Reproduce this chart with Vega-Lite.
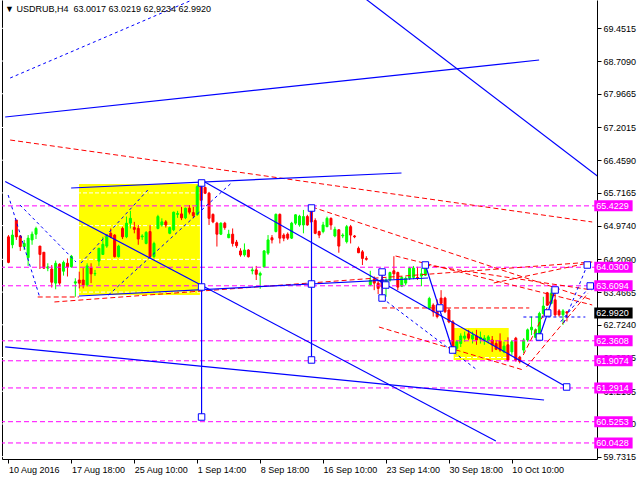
{
"$schema": "https://vega.github.io/schema/vega-lite/v6.json",
"width": 595, "height": 459,
"autosize": {"type": "none"},
"padding": {"left": 2, "top": 0, "right": 43, "bottom": 21},
"background": "white",
"title": {"text": "▼ USDRUB,H4\u00a0 63.0017 63.0219 62,9234 62.9920", "anchor": "start", "frame": "group", "orient": "top", "offset": 0, "dy": 14, "dx": 3, "font": "Liberation Sans, DejaVu Sans", "fontSize": 9, "fontWeight": "normal", "color": "black"},
"config": {"view": {"stroke": null}, "font": "Liberation Sans"},
"resolve": {"axis": {"x": "independent", "y": "independent"}},
"datasets": {
"zones": [{"x1": 17.93, "x2": 48.68, "p1": 65.919, "p2": 63.4}, {"x1": 113.2, "x2": 127.2, "p1": 62.652, "p2": 61.926}],
"grid": [{"p": 69.4515}, {"p": 68.709}, {"p": 67.9665}, {"p": 67.2015}, {"p": 66.459}, {"p": 65.7165}, {"p": 64.974}, {"p": 64.209}, {"p": 63.4665}, {"p": 62.724}, {"p": 61.9815}, {"p": 61.2165}, {"p": 60.474}, {"p": 59.7315}],
"levels": [{"p": 65.4229, "t": "65.4229", "k": "lvl"}, {"p": 64.03, "t": "64.0300", "k": "lvl"}, {"p": 63.6094, "t": "63.6094", "k": "lvl"}, {"p": 62.3608, "t": "62.3608", "k": "lvl"}, {"p": 61.9074, "t": "61.9074", "k": "lvl"}, {"p": 61.2914, "t": "61.2914", "k": "lvl"}, {"p": 60.5253, "t": "60.5253", "k": "lvl"}, {"p": 60.0428, "t": "60.0428", "k": "lvl"}, {"p": 62.992, "t": "62.9920", "k": "cur"}],
"segs": [
{"k": "b", "x1": -0.83, "p1": 67.439, "x2": 134.93, "p2": 68.733},
{"k": "b", "x1": 90, "p1": 70.174, "x2": 151, "p2": 66.014},
{"k": "b", "x1": 15.93, "p1": 65.828, "x2": 99.93, "p2": 66.169},
{"k": "b", "x1": 17.93, "p1": 63.378, "x2": 106.68, "p2": 63.786},
{"k": "b", "x1": -0.83, "p1": 65.976, "x2": 123.93, "p2": 60.088},
{"k": "b", "x1": 49.93, "p1": 65.964, "x2": 141.93, "p2": 61.313},
{"k": "b", "x1": -0.83, "p1": 62.221, "x2": 136.18, "p2": 61.018},
{"k": "b", "x1": 49.1, "p1": 65.942, "x2": 49.1, "p2": 60.632},
{"k": "b", "x1": 77.05, "p1": 65.374, "x2": 77.05, "p2": 61.926},
{"k": "b", "x1": 95.0, "p1": 63.922, "x2": 95.0, "p2": 63.332},
{"k": "b", "x1": 106.0, "p1": 64.081, "x2": 112.93, "p2": 62.152},
{"k": "b", "x1": 135.0, "p1": 62.447, "x2": 137.1, "p2": 62.992},
{"k": "b", "x1": 137.1, "p1": 62.992, "x2": 139.0, "p2": 63.514},
{"k": "bd", "x1": 0.43, "p1": 68.324, "x2": 46.68, "p2": 70.094},
{"k": "bd", "x1": -0.08, "p1": 65.669, "x2": 7.93, "p2": 63.355},
{"k": "bd", "x1": 2.93, "p1": 65.443, "x2": 17.18, "p2": 64.149},
{"k": "bd", "x1": 18.43, "p1": 64.126, "x2": 35.43, "p2": 65.783},
{"k": "bd", "x1": 25.43, "p1": 63.4, "x2": 56.68, "p2": 65.942},
{"k": "bd", "x1": 95.0, "p1": 63.332, "x2": 119.18, "p2": 61.699},
{"k": "bd", "x1": 130.93, "p1": 62.901, "x2": 146.68, "p2": 62.901},
{"k": "bd", "x1": 141.18, "p1": 62.765, "x2": 147.18, "p2": 64.081},
{"k": "bd", "x1": 140.43, "p1": 62.795, "x2": 147.93, "p2": 63.605},
{"k": "rd", "x1": 0.43, "p1": 66.917, "x2": 148.43, "p2": 65.057},
{"k": "rd", "x1": 7.43, "p1": 63.355, "x2": 17.93, "p2": 63.355},
{"k": "rd", "x1": 11.68, "p1": 63.242, "x2": 148.43, "p2": 64.149},
{"k": "rd", "x1": 77.18, "p1": 65.397, "x2": 148.43, "p2": 63.287},
{"k": "rd", "x1": 95.0, "p1": 63.106, "x2": 132.43, "p2": 63.106},
{"k": "rd", "x1": 98.43, "p1": 64.285, "x2": 148.43, "p2": 63.174},
{"k": "rd", "x1": 94.2, "p1": 62.674, "x2": 130.9, "p2": 61.699},
{"k": "rd", "x1": 130.9, "p1": 62.039, "x2": 139.2, "p2": 63.514},
{"k": "rd", "x1": 131.7, "p1": 61.767, "x2": 147.4, "p2": 63.446},
{"k": "rd", "x1": 123.4, "p1": 63.673, "x2": 147.4, "p2": 64.126},
{"k": "rd", "x1": 106.0, "p1": 64.081, "x2": 148.4, "p2": 63.514}
],
"pts": [{"x": 49.1, "p": 65.942}, {"x": 49.1, "p": 63.582}, {"x": 49.1, "p": 60.632}, {"x": 77.05, "p": 65.374}, {"x": 77.05, "p": 63.65}, {"x": 77.05, "p": 61.926}, {"x": 95.0, "p": 63.922}, {"x": 95.0, "p": 63.332}, {"x": 95.93, "p": 63.627}, {"x": 106.0, "p": 64.081}, {"x": 109.68, "p": 63.106}, {"x": 112.93, "p": 62.152}, {"x": 135.0, "p": 62.447}, {"x": 137.1, "p": 62.992}, {"x": 139.0, "p": 63.514}, {"x": 141.93, "p": 61.313}, {"x": 147.93, "p": 63.605}, {"x": 147.18, "p": 64.081}],
"candles": [
{"i":0,"o":64.72,"h":64.76,"l":64.12,"c":64.14},{"i":1,"o":64.54,"h":64.88,"l":64.46,"c":64.76},{"i":2,"o":65.10,"h":65.10,"l":64.65,"c":64.72},{"i":3,"o":64.74,"h":64.76,"l":64.40,"c":64.50},{"i":4,"o":64.50,"h":64.65,"l":64.42,"c":64.57},{"i":5,"o":64.25,"h":64.76,"l":64.06,"c":64.69},{"i":6,"o":64.65,"h":64.84,"l":64.54,"c":64.78},{"i":7,"o":64.78,"h":64.95,"l":64.67,"c":64.91},{"i":8,"o":64.51,"h":64.51,"l":63.99,"c":64.32},{"i":9,"o":64.37,"h":64.37,"l":63.99,"c":64.01},
{"i":10,"o":64.01,"h":64.12,"l":63.94,"c":64.04},{"i":11,"o":63.99,"h":64.08,"l":63.57,"c":63.69},{"i":12,"o":63.67,"h":64.18,"l":63.53,"c":64.12},{"i":13,"o":64.10,"h":64.12,"l":63.63,"c":63.67},{"i":14,"o":63.94,"h":64.18,"l":63.84,"c":64.14},{"i":15,"o":64.12,"h":64.23,"l":63.82,"c":64.04},{"i":16,"o":64.04,"h":64.31,"l":64.02,"c":64.28},{"i":17,"o":63.67,"h":63.78,"l":63.36,"c":63.70},{"i":18,"o":63.74,"h":63.93,"l":63.55,"c":63.67},{"i":19,"o":63.74,"h":64.01,"l":63.55,"c":63.63},
{"i":20,"o":63.63,"h":64.12,"l":63.59,"c":64.06},{"i":21,"o":64.01,"h":64.12,"l":63.67,"c":63.88},{"i":22,"o":63.88,"h":63.97,"l":63.83,"c":63.89},{"i":23,"o":64.17,"h":64.47,"l":64.06,"c":64.46},{"i":24,"o":64.32,"h":64.72,"l":64.31,"c":64.55},{"i":25,"o":64.51,"h":64.76,"l":64.47,"c":64.72},{"i":26,"o":64.80,"h":64.91,"l":64.69,"c":64.72},{"i":27,"o":64.76,"h":64.78,"l":64.25,"c":64.27},{"i":28,"o":64.27,"h":64.54,"l":64.25,"c":64.51},{"i":29,"o":64.91,"h":64.95,"l":64.67,"c":64.72},
{"i":30,"o":64.72,"h":65.18,"l":64.69,"c":65.03},{"i":31,"o":65.03,"h":65.31,"l":64.91,"c":65.14},{"i":32,"o":64.93,"h":65.06,"l":64.80,"c":64.89},{"i":33,"o":64.91,"h":64.99,"l":64.54,"c":64.67},{"i":34,"o":64.72,"h":64.78,"l":64.65,"c":64.74},{"i":35,"o":64.57,"h":64.85,"l":64.55,"c":64.82},{"i":36,"o":64.84,"h":64.99,"l":64.23,"c":64.27},{"i":37,"o":64.27,"h":64.61,"l":64.23,"c":64.57},{"i":38,"o":64.91,"h":65.22,"l":64.89,"c":65.18},{"i":39,"o":64.99,"h":65.14,"l":64.95,"c":65.06},
{"i":40,"o":65.06,"h":65.10,"l":64.93,"c":64.99},{"i":41,"o":64.80,"h":64.95,"l":64.78,"c":64.93},{"i":42,"o":64.88,"h":65.29,"l":64.85,"c":65.28},{"i":43,"o":65.23,"h":65.31,"l":65.15,"c":65.25},{"i":44,"o":65.24,"h":65.40,"l":65.10,"c":65.15},{"i":45,"o":65.15,"h":65.38,"l":65.12,"c":65.37},{"i":46,"o":65.37,"h":65.44,"l":65.23,"c":65.28},{"i":47,"o":65.27,"h":65.40,"l":65.14,"c":65.20},{"i":48,"o":65.22,"h":65.90,"l":65.20,"c":65.86},{"i":49,"o":65.86,"h":65.94,"l":65.44,"c":65.55},
{"i":50,"o":65.84,"h":65.86,"l":65.69,"c":65.71},{"i":51,"o":65.71,"h":65.74,"l":64.99,"c":65.14},{"i":52,"o":65.23,"h":65.25,"l":65.03,"c":65.06},{"i":53,"o":65.03,"h":65.06,"l":64.50,"c":64.78},{"i":54,"o":64.78,"h":65.05,"l":64.76,"c":65.03},{"i":55,"o":65.03,"h":65.06,"l":64.88,"c":64.93},{"i":56,"o":64.70,"h":64.88,"l":64.69,"c":64.78},{"i":57,"o":64.78,"h":64.91,"l":64.50,"c":64.57},{"i":58,"o":64.60,"h":64.65,"l":64.47,"c":64.52},{"i":59,"o":64.40,"h":64.46,"l":64.27,"c":64.31},
{"i":60,"o":64.31,"h":64.57,"l":64.27,"c":64.42},{"i":61,"o":64.42,"h":64.44,"l":64.25,"c":64.27},{"i":62,"o":63.95,"h":64.04,"l":63.87,"c":63.97},{"i":63,"o":63.97,"h":64.06,"l":63.74,"c":63.87},{"i":64,"o":63.85,"h":63.93,"l":63.54,"c":63.89},{"i":65,"o":64.04,"h":64.42,"l":64.02,"c":64.40},{"i":66,"o":64.35,"h":64.76,"l":64.31,"c":64.65},{"i":67,"o":64.70,"h":64.76,"l":64.57,"c":64.65},{"i":68,"o":64.84,"h":65.25,"l":64.82,"c":65.23},{"i":69,"o":65.23,"h":65.25,"l":64.57,"c":64.69},
{"i":70,"o":64.76,"h":64.80,"l":64.62,"c":64.69},{"i":71,"o":64.78,"h":64.82,"l":64.65,"c":64.69},{"i":72,"o":64.69,"h":65.06,"l":64.67,"c":65.03},{"i":73,"o":65.03,"h":65.23,"l":64.99,"c":65.22},{"i":74,"o":64.99,"h":65.22,"l":64.95,"c":65.19},{"i":75,"o":64.99,"h":65.33,"l":64.80,"c":65.18},{"i":76,"o":65.18,"h":65.22,"l":64.97,"c":64.99},{"i":77,"o":65.33,"h":65.38,"l":65.03,"c":65.06},{"i":78,"o":65.09,"h":65.14,"l":64.78,"c":64.80},{"i":79,"o":64.84,"h":64.86,"l":64.69,"c":64.76},
{"i":80,"o":64.84,"h":65.06,"l":64.80,"c":64.99},{"i":81,"o":64.95,"h":65.18,"l":64.94,"c":65.14},{"i":82,"o":65.14,"h":65.16,"l":64.88,"c":64.99},{"i":83,"o":64.74,"h":64.95,"l":64.71,"c":64.89},{"i":84,"o":64.88,"h":64.89,"l":64.36,"c":64.51},{"i":85,"o":64.74,"h":64.80,"l":64.69,"c":64.76},{"i":86,"o":64.61,"h":64.99,"l":64.57,"c":64.95},{"i":87,"o":64.95,"h":64.99,"l":64.57,"c":64.76},{"i":88,"o":64.74,"h":64.76,"l":64.69,"c":64.72},{"i":89,"o":64.46,"h":64.50,"l":64.35,"c":64.36},
{"i":90,"o":64.38,"h":64.42,"l":64.08,"c":64.23},{"i":91,"o":64.23,"h":64.28,"l":64.18,"c":64.21},{"i":92,"o":63.63,"h":63.95,"l":63.60,"c":63.74},{"i":93,"o":63.76,"h":63.82,"l":63.51,"c":63.67},{"i":94,"o":63.67,"h":63.72,"l":63.42,"c":63.55},{"i":95,"o":63.76,"h":63.89,"l":63.36,"c":63.58},{"i":96,"o":63.58,"h":63.78,"l":63.36,"c":63.74},{"i":97,"o":63.74,"h":63.93,"l":63.70,"c":63.91},{"i":98,"o":63.95,"h":64.28,"l":63.76,"c":63.88},{"i":99,"o":63.91,"h":63.93,"l":63.51,"c":63.58},
{"i":100,"o":63.60,"h":63.83,"l":63.58,"c":63.80},{"i":101,"o":63.67,"h":63.82,"l":63.62,"c":63.78},{"i":102,"o":63.78,"h":64.04,"l":63.74,"c":64.01},{"i":103,"o":63.80,"h":64.06,"l":63.76,"c":64.01},{"i":104,"o":63.80,"h":64.04,"l":63.74,"c":63.78},{"i":105,"o":63.83,"h":64.01,"l":63.60,"c":63.88},{"i":106,"o":63.85,"h":64.08,"l":63.83,"c":64.01},{"i":107,"o":63.10,"h":63.36,"l":63.06,"c":63.32},{"i":108,"o":63.17,"h":63.21,"l":62.91,"c":63.02},{"i":109,"o":63.17,"h":63.30,"l":62.87,"c":62.91},
{"i":110,"o":63.33,"h":63.51,"l":63.19,"c":63.21},{"i":111,"o":63.33,"h":63.36,"l":62.99,"c":63.02},{"i":112,"o":63.06,"h":63.10,"l":62.76,"c":62.79},{"i":113,"o":62.79,"h":62.83,"l":62.19,"c":62.23},{"i":114,"o":62.19,"h":62.38,"l":62.15,"c":62.34},{"i":115,"o":62.30,"h":62.53,"l":62.22,"c":62.47},{"i":116,"o":62.42,"h":62.57,"l":62.34,"c":62.47},{"i":117,"o":62.52,"h":62.61,"l":62.38,"c":62.42},{"i":118,"o":62.40,"h":62.57,"l":62.30,"c":62.49},{"i":119,"o":62.47,"h":62.61,"l":62.27,"c":62.38},
{"i":120,"o":62.40,"h":62.57,"l":62.30,"c":62.44},{"i":121,"o":62.38,"h":62.49,"l":62.27,"c":62.42},{"i":122,"o":62.36,"h":62.49,"l":62.30,"c":62.45},{"i":123,"o":62.38,"h":62.47,"l":62.11,"c":62.27},{"i":124,"o":62.30,"h":62.38,"l":62.15,"c":62.17},{"i":125,"o":62.36,"h":62.53,"l":62.11,"c":62.15},{"i":126,"o":62.11,"h":62.34,"l":62.08,"c":62.24},{"i":127,"o":62.27,"h":62.44,"l":61.89,"c":61.92},{"i":128,"o":62.11,"h":62.38,"l":62.04,"c":62.34},{"i":129,"o":62.42,"h":62.45,"l":61.89,"c":61.92},
{"i":130,"o":61.99,"h":62.02,"l":61.85,"c":61.89},{"i":131,"o":62.15,"h":62.42,"l":62.08,"c":62.38},{"i":132,"o":62.38,"h":62.64,"l":62.34,"c":62.61},{"i":133,"o":62.61,"h":62.91,"l":62.49,"c":62.67},{"i":134,"o":62.44,"h":62.64,"l":62.42,"c":62.61},{"i":135,"o":62.45,"h":63.02,"l":62.42,"c":62.98},{"i":136,"o":62.98,"h":63.36,"l":62.95,"c":63.15},{"i":137,"o":63.45,"h":63.47,"l":63.15,"c":63.17},{"i":138,"o":63.21,"h":63.55,"l":63.19,"c":63.44},{"i":139,"o":63.29,"h":63.51,"l":62.91,"c":62.95},
{"i":140,"o":63.04,"h":63.08,"l":62.91,"c":62.95},{"i":141,"o":62.95,"h":63.08,"l":62.72,"c":63.04},{"i":142,"o":63.02,"h":63.02,"l":62.80,"c":62.99}
]
},
"layer": [
{"data": {"name": "zones"}, "mark": {"type": "rect", "color": "#ffff00", "clip": true},
 "encoding": {"x": {"field": "x1", "type": "quantitative", "scale": {"domain": [-0.375, 148.375], "nice": false, "zero": false}, "axis": null}, "x2": {"field": "x2"},
  "y": {"field": "p1", "type": "quantitative", "scale": {"domain": [59.679, 70.094], "nice": false, "zero": false}, "axis": null}, "y2": {"field": "p2"}}},
{"data": {"name": "grid"}, "mark": {"type": "rule", "color": "#ffffff", "strokeDash": [4, 2], "clip": true},
 "encoding": {"y": {"field": "p", "type": "quantitative", "axis": null}}},
{"data": {"name": "candles"}, "mark": {"type": "rule", "strokeWidth": 1, "clip": true},
 "encoding": {"x": {"field": "i", "type": "quantitative", "axis": null},
  "y": {"field": "l", "type": "quantitative", "axis": {"orient": "left", "labels": false, "ticks": false, "grid": false, "title": null, "domain": true, "domainColor": "#000000", "domainWidth": 1}},
  "y2": {"field": "h"},
  "color": {"condition": {"test": "datum.c >= datum.o", "value": "#00ff00"}, "value": "#ff0000"}}},
{"data": {"name": "candles"}, "mark": {"type": "bar", "width": 2, "strokeWidth": 1, "clip": true},
 "encoding": {"x": {"field": "i", "type": "quantitative",
   "axis": {"orient": "bottom", "values": [0, 16, 32, 48, 64, 80, 96, 112, 128], "labelExpr": "['10 Aug 2016','17 Aug 18:00','25 Aug 10:00','1 Sep 14:00','8 Sep 18:00','16 Sep 10:00','23 Sep 14:00','30 Sep 18:00','10 Oct 10:00'][round(datum.value/16)]", "labelAlign": "left", "labelBaseline": "top", "labelPadding": 2, "labelFont": "Liberation Sans", "labelFontSize": 9, "labelColor": "#000000", "labelFlush": false, "labelOverlap": false, "tickSize": 4, "tickColor": "#000000", "domainColor": "#000000", "grid": false, "title": null}},
  "y": {"field": "o", "type": "quantitative",
   "axis": {"orient": "right", "values": [69.4515, 68.709, 67.9665, 67.2015, 66.459, 65.7165, 64.974, 64.209, 63.4665, 62.724, 61.9815, 61.2165, 60.474, 59.7315], "format": ".4f", "labelFont": "Liberation Sans", "labelFontSize": 9, "labelColor": "#000000", "labelPadding": 2, "labelFlush": false, "labelOverlap": false, "tickSize": 4, "tickColor": "#000000", "domainColor": "#000000", "grid": false, "title": null}},
  "y2": {"field": "c"},
  "fill": {"condition": {"test": "datum.c >= datum.o", "value": "#00ff00"}, "value": "#ff0000"},
  "stroke": {"condition": {"test": "datum.c >= datum.o", "value": "#00ff00"}, "value": "#ff0000"}}},
{"data": {"name": "levels"}, "transform": [{"filter": "datum.k == 'lvl'"}], "mark": {"type": "rule", "color": "#ff00ff", "strokeDash": [5, 3], "clip": true},
 "encoding": {"y": {"field": "p", "type": "quantitative", "axis": null}}},
{"data": {"name": "segs"}, "transform": [{"filter": "datum.k == 'rd'"}], "mark": {"type": "rule", "color": "#ff0000", "strokeDash": [5, 3], "clip": true},
 "encoding": {"x": {"field": "x1", "type": "quantitative", "axis": null}, "x2": {"field": "x2"}, "y": {"field": "p1", "type": "quantitative", "axis": null}, "y2": {"field": "p2"}}},
{"data": {"name": "segs"}, "transform": [{"filter": "datum.k == 'bd'"}], "mark": {"type": "rule", "color": "#0000ff", "strokeDash": [3, 3], "clip": true},
 "encoding": {"x": {"field": "x1", "type": "quantitative", "axis": null}, "x2": {"field": "x2"}, "y": {"field": "p1", "type": "quantitative", "axis": null}, "y2": {"field": "p2"}}},
{"data": {"name": "segs"}, "transform": [{"filter": "datum.k == 'b'"}], "mark": {"type": "rule", "color": "#0000ff", "strokeWidth": 1.2, "clip": true},
 "encoding": {"x": {"field": "x1", "type": "quantitative", "axis": null}, "x2": {"field": "x2"}, "y": {"field": "p1", "type": "quantitative", "axis": null}, "y2": {"field": "p2"}}},
{"data": {"name": "pts"}, "mark": {"type": "point", "shape": "square", "size": 42, "filled": true, "fill": "#ffffff", "stroke": "#0000ff", "strokeWidth": 1, "opacity": 1, "clip": true},
 "encoding": {"x": {"field": "x", "type": "quantitative", "axis": null}, "y": {"field": "p", "type": "quantitative", "axis": null}}},
{"data": {"name": "levels"}, "mark": {"type": "rect", "height": 11, "clip": false},
 "encoding": {"x": {"datum": 148.95, "type": "quantitative", "axis": null}, "x2": {"datum": 158.7}, "y": {"field": "p", "type": "quantitative", "axis": null},
  "color": {"condition": {"test": "datum.k == 'cur'", "value": "#000000"}, "value": "#ff00ff"}}},
{"data": {"name": "levels"}, "mark": {"type": "text", "align": "left", "baseline": "middle", "dx": 2, "font": "Liberation Sans", "fontSize": 9, "color": "#ffffff", "clip": false},
 "encoding": {"x": {"datum": 148.95, "type": "quantitative", "axis": null}, "y": {"field": "p", "type": "quantitative", "axis": null}, "text": {"field": "t"}}}
]
}
